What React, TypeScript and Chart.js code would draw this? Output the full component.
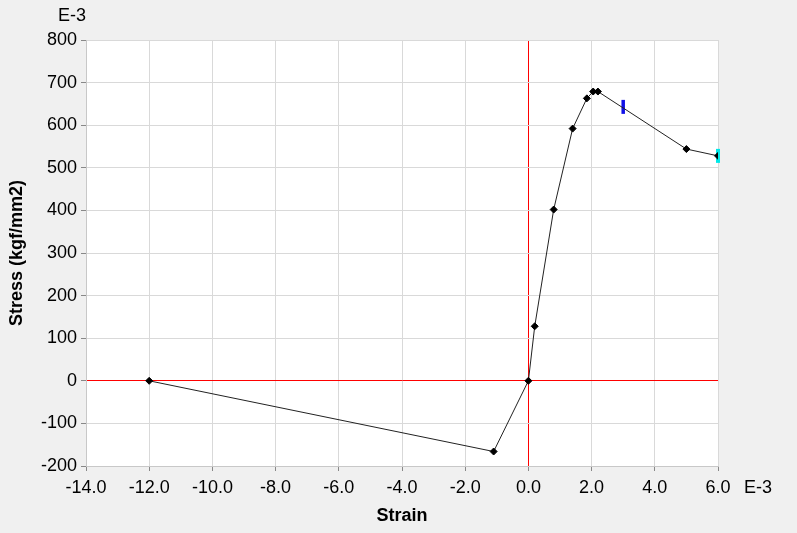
import React, { useEffect, useRef } from "react";
import { Chart, registerables } from "chart.js";

Chart.register(...registerables);

const strainValues = [-12.0, -1.1, 0.0, 0.2, 0.8, 1.4, 1.85, 2.05, 2.2, 5.0, 6.0];
const stressValues = [0, -166, 0, 128, 402, 592, 663, 679, 679, 544, 528];
const markerStrain = [3.0];
const markerStress = [643];
const endStrain = [6.0];
const endStress = [528];
const xTickLabelSuffix = "E-3";
const yTickLabelSuffix = "E-3";

const FONT = "'Liberation Sans', Arial, sans-serif";

const bgPlugin = {
  id: "bg",
  beforeDraw(chart: any) {
    const { ctx, chartArea } = chart;
    ctx.save();
    ctx.fillStyle = "#f0f0f0";
    ctx.fillRect(0, 0, chart.width, chart.height);
    ctx.fillStyle = "#ffffff";
    ctx.fillRect(chartArea.left, chartArea.top, chartArea.right - chartArea.left, chartArea.bottom - chartArea.top);
    ctx.restore();
  },
  afterDraw(chart: any) {
    const { ctx, chartArea } = chart;
    ctx.save();
    ctx.fillStyle = "#000";
    ctx.font = `18px ${FONT}`;
    ctx.textBaseline = "middle";
    ctx.textAlign = "center";
    ctx.fillText(yTickLabelSuffix, chartArea.left - 14, 16);
    ctx.textAlign = "left";
    ctx.fillText(xTickLabelSuffix, chartArea.right + 26, 488);
    ctx.restore();
  },
};

export default function App() {
  const ref = useRef<HTMLCanvasElement>(null);
  useEffect(() => {
    const lineData = strainValues.map((x, i) => ({ x, y: stressValues[i] }));
    const chart = new Chart(ref.current!, {
      type: "scatter",
      data: {
        datasets: [
          {
            data: lineData,
            showLine: true,
            borderColor: "#222",
            borderWidth: 1,
            pointStyle: "rectRot",
            pointRadius: 3.5,
            pointBackgroundColor: "#000",
            pointBorderColor: "#000",
            pointBorderWidth: 1,
          },
          {
            data: markerStrain.map((x, i) => ({ x, y: markerStress[i] })),
            pointStyle: "line",
            rotation: 90,
            pointRadius: 7,
            pointBorderWidth: 3.5,
            pointBorderColor: "#1010e8",
            clip: false,
          },
          {
            data: endStrain.map((x, i) => ({ x, y: endStress[i] })),
            pointStyle: "line",
            rotation: 90,
            pointRadius: 7,
            pointBorderWidth: 4,
            pointBorderColor: "#00e8e8",
            clip: false,
          },
        ],
      },
      options: {
        animation: false,
        responsive: false,
        layout: { padding: { left: 0, right: 79, top: 40, bottom: 0 } },
        plugins: { legend: { display: false }, tooltip: { enabled: false } },
        scales: {
          x: {
            type: "linear",
            min: -14,
            max: 6,
            afterFit: (s: any) => { s.height = 67; },
            ticks: {
              stepSize: 2,
              color: "#000",
              font: { family: FONT, size: 18 },
              padding: 6,
              maxRotation: 0,
              callback: (v: any) => Number(v).toFixed(1),
            },
            grid: {
              color: (c: any) => (c.tick && c.tick.value === 0 ? "#ff0000" : "#d9d9d9"),
              tickColor: "#888",
              tickLength: 5,
            },
            border: { color: "#c8c8c8" },
            title: {
              display: true,
              text: "Strain",
              color: "#000",
              font: { family: FONT, size: 18, weight: "bold" },
              padding: { top: 0, bottom: 6 },
            },
          },
          y: {
            type: "linear",
            min: -200,
            max: 800,
            afterFit: (s: any) => { s.width = 86; },
            ticks: {
              stepSize: 100,
              color: "#000",
              font: { family: FONT, size: 18 },
              padding: 4,
            },
            grid: {
              color: (c: any) => (c.tick && c.tick.value === 0 ? "#ff0000" : "#d9d9d9"),
              tickColor: "#888",
              tickLength: 5,
            },
            border: { color: "#c8c8c8" },
            title: {
              display: true,
              text: "Stress (kgf/mm2)",
              color: "#000",
              font: { family: FONT, size: 18, weight: "bold" },
              padding: { top: 6, bottom: 0 },
            },
          },
        },
      },
      plugins: [bgPlugin],
    });
    return () => chart.destroy();
  }, []);
  return (
    <div style={{ position: "fixed", left: 0, top: 0, width: 797, height: 533 }}>
      <canvas ref={ref} width={797} height={533} style={{ display: "block", width: 797, height: 533 }} />
    </div>
  );
}
